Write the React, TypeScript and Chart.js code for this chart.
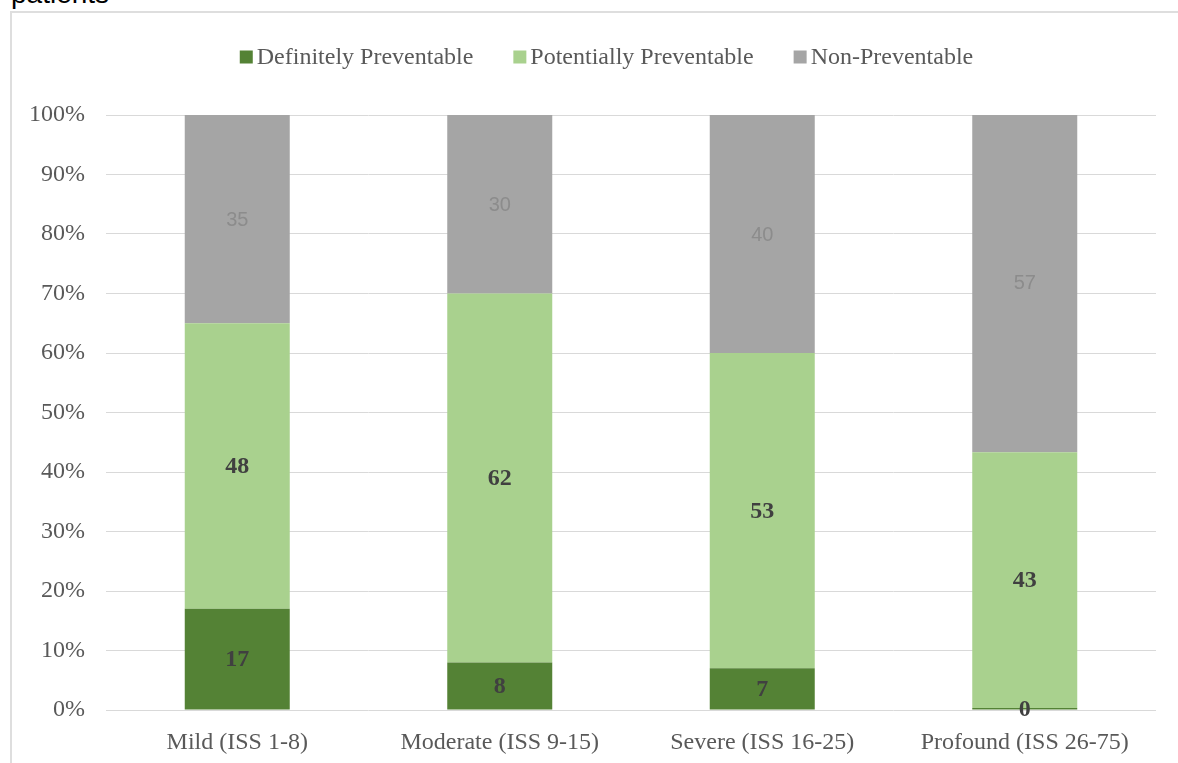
import React, { useEffect, useRef } from "react";
import { Chart, registerables } from "chart.js";

Chart.register(...registerables);

// Injury severity groups and the share of deaths (%) in each preventability class
const categories = ["Mild (ISS 1-8)", "Moderate (ISS 9-15)", "Severe (ISS 16-25)", "Profound (ISS 26-75)"];
const definitelyPreventable = [17, 8, 7, 0];
const potentiallyPreventable = [48, 62, 53, 43];
const nonPreventable = [35, 30, 40, 57];
const seriesNames = ["Definitely Preventable", "Potentially Preventable", "Non-Preventable"];
const seriesColors = ["#548235", "#A9D18E", "#A5A5A5"];
const yTickValues = [0, 10, 20, 30, 40, 50, 60, 70, 80, 90, 100];

const SERIF = '"Liberation Serif", "Times New Roman", serif';
const SANS = '"Liberation Sans", Arial, sans-serif';

// Legend row drawn above the plot: square swatch, small gap, label
const legendPlugin = {
  id: "topLegend",
  afterDraw(chart: any) {
    const ctx = chart.ctx;
    const box = 13;
    const gap = 4;
    const between = 40;
    ctx.save();
    ctx.font = `24px ${SERIF}`;
    const widths = seriesNames.map((n) => ctx.measureText(n).width);
    const total = widths.reduce((a, w) => a + box + gap + w, 0) + between * (seriesNames.length - 1);
    let x = 606.5 - total / 2;
    const cy = 57;
    seriesNames.forEach((name, i) => {
      ctx.fillStyle = seriesColors[i];
      ctx.fillRect(x, cy - box / 2, box, box);
      ctx.fillStyle = "#595959";
      ctx.textAlign = "left";
      ctx.textBaseline = "middle";
      ctx.fillText(name, x + box + gap, cy + 1);
      x += box + gap + widths[i] + between;
    });
    ctx.restore();
  },
};

// Value labels centred inside each stacked segment
const segmentLabelPlugin = {
  id: "segmentLabels",
  afterDatasetsDraw(chart: any) {
    const ctx = chart.ctx;
    ctx.save();
    ctx.textAlign = "center";
    ctx.textBaseline = "middle";
    chart.data.datasets.forEach((ds: any, di: number) => {
      const meta = chart.getDatasetMeta(di);
      meta.data.forEach((bar: any, i: number) => {
        const v = ds.data[i];
        const cy = (bar.y + bar.base) / 2;
        if (di === 2) {
          ctx.font = `20px ${SANS}`;
          ctx.fillStyle = "#8C8C8C";
        } else {
          ctx.font = `bold 24px ${SERIF}`;
          ctx.fillStyle = "#404040";
        }
        ctx.fillText(String(v), bar.x, cy + 1);
      });
    });
    ctx.restore();
  },
};

export default function App() {
  const canvasRef = useRef<HTMLCanvasElement | null>(null);

  useEffect(() => {
    if (!canvasRef.current) return;
    const chart = new Chart(canvasRef.current, {
      type: "bar",
      data: {
        labels: categories,
        datasets: [
          {
            label: seriesNames[0],
            data: definitelyPreventable,
            backgroundColor: seriesColors[0],
            minBarLength: 2,
          },
          { label: seriesNames[1], data: potentiallyPreventable, backgroundColor: seriesColors[1] },
          { label: seriesNames[2], data: nonPreventable, backgroundColor: seriesColors[2] },
        ],
      },
      options: {
        responsive: false,
        animation: false,
        devicePixelRatio: 1,
        datasets: { bar: { categoryPercentage: 1, barPercentage: 0.4, borderWidth: 0 } },
        layout: { padding: { top: 115, right: 22, bottom: 0, left: 0 } },
        plugins: { legend: { display: false }, tooltip: { enabled: false }, title: { display: false } },
        scales: {
          x: {
            stacked: true,
            grid: { display: false },
            border: { display: false },
            ticks: { font: { family: SERIF, size: 24 }, color: "#595959", padding: 10 },
            afterFit(scale: any) {
              scale.height = 53;
            },
          },
          y: {
            stacked: true,
            min: 0,
            max: 100,
            afterBuildTicks(scale: any) {
              scale.ticks = yTickValues.map((v) => ({ value: v }));
            },
            grid: { color: "#D9D9D9", lineWidth: 1, drawTicks: false },
            border: { display: false },
            ticks: {
              font: { family: SERIF, size: 24 },
              color: "#595959",
              padding: 21,
              callback: (v: any) => `${v}%`,
            },
            afterFit(scale: any) {
              scale.width = 106;
            },
          },
        },
      },
      plugins: [legendPlugin, segmentLabelPlugin],
    });
    return () => chart.destroy();
  }, []);

  return (
    <div style={{ position: "absolute", left: 0, top: 0, width: 1178, height: 763, overflow: "hidden", background: "#fff" }}>
      <div
        style={{
          position: "absolute",
          left: 11,
          top: -20,
          fontFamily: SANS,
          fontSize: 28,
          lineHeight: "28px",
          color: "#000",
          whiteSpace: "nowrap",
        }}
      >
        patients
      </div>
      <div
        style={{
          position: "absolute",
          left: 10,
          top: 11,
          width: 1200,
          height: 800,
          borderLeft: "2px solid #DEDEDE",
          borderTop: "2px solid #DEDEDE",
        }}
      />
      <canvas ref={canvasRef} width={1178} height={763} style={{ position: "absolute", left: 0, top: 0 }} />
    </div>
  );
}
